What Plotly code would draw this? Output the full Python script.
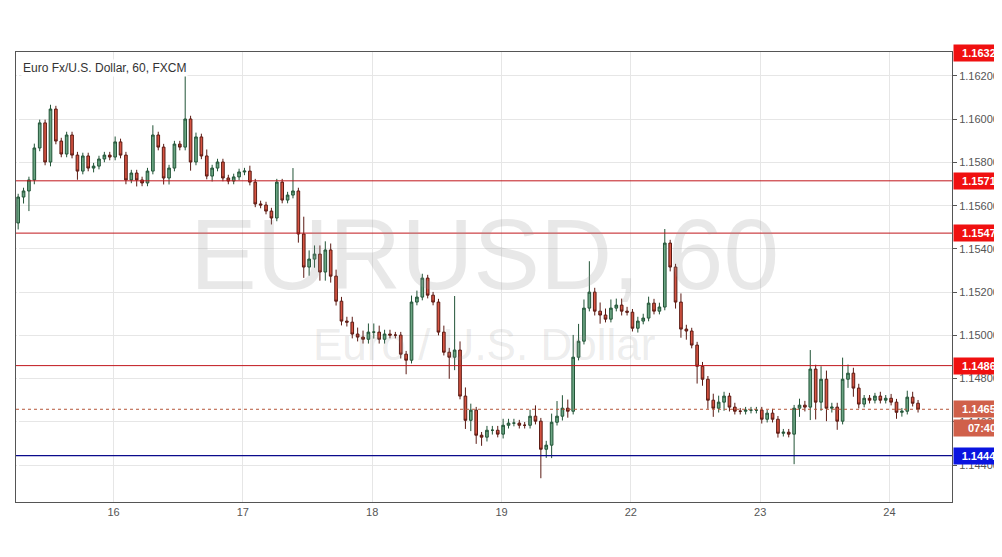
import plotly.graph_objects as go

# hourly EURUSD candles, Jun 15 -> Jun 24 (weekend skipped)
first_open = 1.15520
closes = [
    1.15640, 1.15668, 1.15719, 1.15867, 1.15983, 1.15802, 1.16047, 1.15899, 1.15839, 1.15927, 1.15834, 1.15760,
    1.15830, 1.15774, 1.15783, 1.15816, 1.15834, 1.15825, 1.15895, 1.15834, 1.15719, 1.15751, 1.15719, 1.15705,
    1.15760, 1.15927, 1.15871, 1.15728, 1.15774, 1.15885, 1.15871, 1.16001, 1.15802, 1.15918, 1.15830, 1.15737,
    1.15774, 1.15802, 1.15728, 1.15714, 1.15733, 1.15756, 1.15760, 1.15709, 1.15608, 1.15603, 1.15575, 1.15543,
    1.15709, 1.15626, 1.15649, 1.15668, 1.15469, 1.15316, 1.15353, 1.15376, 1.15293, 1.15395, 1.15274, 1.15158,
    1.15066, 1.15061, 1.15006, 1.14992, 1.14982, 1.15015, 1.15015, 1.14982, 1.15006, 1.15001, 1.15001, 1.14913,
    1.14885, 1.15154, 1.15177, 1.15265, 1.15186, 1.15154, 1.15015, 1.14922, 1.14899, 1.14932, 1.14719, 1.14607,
    1.14654, 1.14538, 1.14529, 1.14561, 1.14561, 1.14543, 1.14584, 1.14594, 1.14594, 1.14584, 1.14584, 1.14626,
    1.14603, 1.14473, 1.14492, 1.14598, 1.14626, 1.14663, 1.14649, 1.14899, 1.14973, 1.15126, 1.15200, 1.15112,
    1.15094, 1.15075, 1.15126, 1.15140, 1.15112, 1.15107, 1.15033, 1.15066, 1.15080, 1.15149, 1.15112, 1.15131,
    1.15427, 1.15316, 1.15154, 1.15029, 1.15020, 1.14955, 1.14857, 1.14797, 1.14700, 1.14663, 1.14691, 1.14719,
    1.14668, 1.14649, 1.14649, 1.14654, 1.14654, 1.14654, 1.14612, 1.14640, 1.14612, 1.14547, 1.14552, 1.14543,
    1.14663, 1.14677, 1.14668, 1.14844, 1.14691, 1.14797, 1.14663, 1.14668, 1.14603, 1.14797, 1.14825, 1.14756,
    1.14682, 1.14709, 1.14700, 1.14719, 1.14700, 1.14709, 1.14691, 1.14644, 1.14649, 1.14714, 1.14686, 1.14658,
]
# wick lengths beyond the body, in 0.00001 units
wick_up = [
    15, 15, 15, 20, 15, 15, 20, 15, 15, 15, 15, 15,
    15, 15, 15, 15, 15, 15, 25, 15, 15, 15, 15, 15,
    15, 45, 15, 15, 15, 15, 15, 204, 15, 20, 15, 30,
    15, 15, 15, 15, 15, 15, 15, 25, 15, 15, 15, 15,
    15, 15, 15, 106, 15, 80, 40, 40, 40, 40, 30, 30,
    20, 20, 25, 30, 30, 40, 40, 30, 20, 20, 15, 15,
    15, 30, 30, 20, 15, 15, 15, 30, 20, 250, 40, 40,
    30, 15, 15, 20, 20, 20, 30, 20, 20, 15, 15, 30,
    50, 15, 20, 40, 70, 60, 40, 103, 80, 40, 143, 20,
    40, 30, 40, 30, 30, 20, 15, 20, 20, 30, 20, 20,
    65, 15, 15, 40, 20, 15, 15, 20, 15, 30, 30, 20,
    15, 20, 15, 15, 15, 15, 15, 15, 20, 15, 15, 15,
    15, 30, 20, 88, 20, 60, 40, 20, 20, 100, 40, 25,
    20, 15, 15, 15, 20, 15, 20, 15, 15, 30, 25, 15,
]
wick_dn = [
    30, 30, 93, 20, 15, 15, 20, 15, 15, 15, 15, 40,
    15, 15, 20, 15, 15, 15, 15, 15, 20, 15, 30, 15,
    15, 15, 15, 30, 30, 15, 15, 15, 40, 15, 15, 15,
    25, 15, 15, 15, 15, 15, 15, 15, 15, 15, 15, 30,
    15, 15, 15, 15, 40, 50, 40, 40, 40, 40, 30, 20,
    20, 20, 20, 20, 20, 20, 30, 20, 20, 15, 15, 20,
    65, 15, 15, 15, 15, 15, 15, 15, 100, 60, 15, 40,
    50, 40, 40, 20, 20, 15, 20, 15, 15, 15, 15, 15,
    15, 134, 40, 60, 15, 20, 30, 15, 15, 15, 15, 20,
    40, 15, 15, 15, 20, 15, 15, 20, 15, 15, 15, 15,
    15, 20, 30, 40, 40, 15, 80, 30, 40, 40, 20, 40,
    20, 15, 15, 15, 15, 15, 20, 15, 15, 20, 15, 15,
    139, 40, 20, 60, 80, 40, 60, 20, 40, 15, 40, 40,
    20, 15, 15, 15, 15, 15, 15, 30, 20, 15, 15, 15,
]

day_ticks = [17.7, 41.7, 65.7, 89.7, 113.7, 137.7, 161.7]
day_labels = ["16", "17", "18", "19", "22", "23", "24"]

red_levels = [1.15715, 1.15473, 1.14860]
support_level = 1.14444
last_price = 1.14658
top_price = 1.16327

opens = [first_open] + closes[:-1]
highs = [max(o, c) + u / 1e5 for o, c, u in zip(opens, closes, wick_up)]
lows = [min(o, c) - d / 1e5 for o, c, d in zip(opens, closes, wick_dn)]
xs = list(range(len(closes)))

fig = go.Figure(go.Candlestick(
    x=xs, open=opens, high=highs, low=lows, close=closes,
    increasing=dict(fillcolor="#6ba583", line=dict(color="#225437", width=1)),
    decreasing=dict(fillcolor="#d75442", line=dict(color="#5b1a13", width=1)),
    whiskerwidth=0, showlegend=False, hoverinfo="skip",
))

for lv in red_levels:
    fig.add_hline(y=lv, line=dict(color="#c0161b", width=1))
fig.add_hline(y=support_level, line=dict(color="#0a0a8c", width=1.2))
fig.add_hline(y=last_price, line=dict(color="#b5563a", width=1, dash="dot"))

def tag(y, text, bg, yshift=0, yref="y", yanchor="middle"):
    fig.add_annotation(x=1, xref="paper", y=y, yref=yref, xanchor="left", yanchor=yanchor,
                       xshift=1, yshift=yshift, text="<b>" + text + "</b>", showarrow=False,
                       bgcolor=bg, font=dict(color="white", size=11, family="Arial"),
                       borderpad=2, width=52)

for lv in red_levels:
    tag(lv, "%.5f" % lv, "#f01010")
tag(support_level, "%.5f" % support_level, "#0a14e0")
tag(last_price, "%.5f" % last_price, "#d0604a")
tag(last_price, "07:40", "#d0604a", yshift=-19)
tag(1, "%.5f" % top_price, "#f01010", yref="paper", yanchor="middle", yshift=-1)

fig.add_annotation(x=0.5, y=0.55, xref="paper", yref="paper", text="EURUSD, 60",
                   showarrow=False, font=dict(size=100, color="rgba(150,150,150,0.22)", family="Arial"))
fig.add_annotation(x=0.5, y=0.35, xref="paper", yref="paper", text="Euro / U.S. Dollar",
                   showarrow=False, font=dict(size=44, color="rgba(150,150,150,0.18)", family="Arial"))
fig.add_annotation(x=0.005, y=0.985, xref="paper", yref="paper", xanchor="left", yanchor="top",
                   text="Euro Fx/U.S. Dollar, 60, FXCM", showarrow=False,
                   font=dict(size=12, color="#333", family="Arial"), bgcolor="white")

fig.update_layout(
    width=1002, height=557,
    margin=dict(l=8, r=58, t=44, b=63, autoexpand=False),
    plot_bgcolor="white", paper_bgcolor="white",
    xaxis=dict(range=[-0.4, 173.3], tickvals=day_ticks, ticktext=day_labels,
               rangeslider=dict(visible=False), showgrid=True, gridcolor="#e6e6e6",
               showline=True, linecolor="#555", mirror=True, ticks="",
               tickfont=dict(size=11, color="#555", family="Arial")),
    yaxis=dict(range=[1.14229, 1.16311], side="right", dtick=0.002, tick0=1.144,
               tickformat=".5f", showgrid=True, gridcolor="#e6e6e6",
               showline=True, linecolor="#555", mirror=True, ticks="outside",
               ticklen=4, tickcolor="#555",
               tickfont=dict(size=11, color="#555", family="Arial")),
)

fig.write_html("out.html")
